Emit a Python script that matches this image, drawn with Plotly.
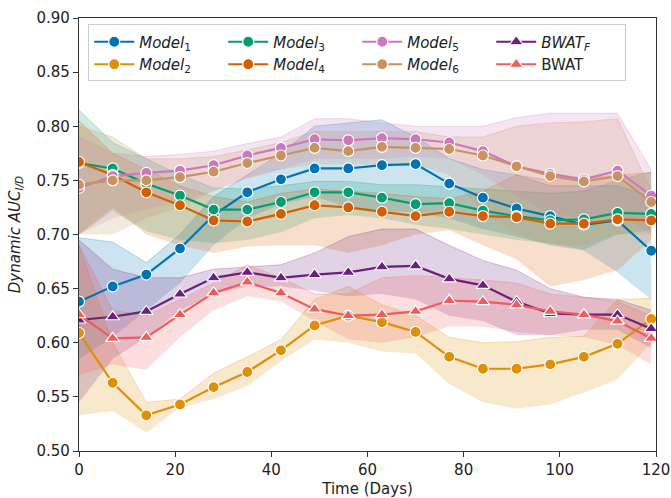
import plotly.graph_objects as go

days = [0, 7, 14, 21, 28, 35, 42, 49, 56, 63, 70, 77, 84, 91, 98, 105, 112, 119]

model1 = [0.638, 0.652, 0.663, 0.687, 0.718, 0.739, 0.751, 0.761, 0.761, 0.764, 0.765, 0.747, 0.734, 0.724, 0.717, 0.709, 0.713, 0.685]
model1_lo = [0.585, 0.605, 0.630, 0.655, 0.690, 0.715, 0.728, 0.735, 0.725, 0.722, 0.720, 0.715, 0.705, 0.698, 0.690, 0.685, 0.665, 0.640]
model1_hi = [0.697, 0.693, 0.674, 0.700, 0.735, 0.755, 0.775, 0.800, 0.803, 0.806, 0.790, 0.770, 0.760, 0.755, 0.745, 0.745, 0.745, 0.735]

model2 = [0.609, 0.563, 0.533, 0.543, 0.559, 0.573, 0.593, 0.616, 0.625, 0.619, 0.610, 0.587, 0.576, 0.576, 0.580, 0.587, 0.599, 0.622]
model2_lo = [0.533, 0.537, 0.517, 0.540, 0.548, 0.560, 0.583, 0.603, 0.600, 0.592, 0.590, 0.562, 0.545, 0.539, 0.543, 0.554, 0.566, 0.600]
model2_hi = [0.690, 0.600, 0.545, 0.548, 0.572, 0.587, 0.603, 0.640, 0.652, 0.635, 0.625, 0.605, 0.600, 0.601, 0.605, 0.606, 0.640, 0.641]

model3 = [0.766, 0.761, 0.747, 0.736, 0.723, 0.723, 0.730, 0.739, 0.739, 0.734, 0.728, 0.729, 0.722, 0.717, 0.713, 0.714, 0.720, 0.719]
model3_lo = [0.700, 0.722, 0.703, 0.695, 0.692, 0.695, 0.702, 0.715, 0.718, 0.715, 0.709, 0.705, 0.700, 0.695, 0.692, 0.686, 0.700, 0.704]
model3_hi = [0.815, 0.785, 0.770, 0.755, 0.743, 0.742, 0.745, 0.749, 0.749, 0.746, 0.746, 0.744, 0.742, 0.740, 0.738, 0.740, 0.750, 0.758]

model4 = [0.767, 0.755, 0.739, 0.727, 0.713, 0.712, 0.719, 0.727, 0.725, 0.721, 0.717, 0.721, 0.717, 0.716, 0.710, 0.710, 0.714, 0.713]
model4_lo = [0.700, 0.725, 0.700, 0.690, 0.683, 0.689, 0.690, 0.690, 0.683, 0.690, 0.700, 0.704, 0.690, 0.677, 0.652, 0.658, 0.667, 0.695]
model4_hi = [0.805, 0.775, 0.760, 0.745, 0.735, 0.730, 0.738, 0.742, 0.740, 0.738, 0.735, 0.733, 0.740, 0.755, 0.750, 0.752, 0.755, 0.757]

model5 = [0.743, 0.754, 0.757, 0.759, 0.764, 0.773, 0.780, 0.788, 0.787, 0.789, 0.788, 0.785, 0.777, 0.763, 0.756, 0.751, 0.759, 0.736]
model5_lo = [0.700, 0.715, 0.723, 0.730, 0.740, 0.752, 0.760, 0.770, 0.770, 0.770, 0.772, 0.770, 0.755, 0.735, 0.720, 0.715, 0.720, 0.700]
model5_hi = [0.790, 0.775, 0.772, 0.774, 0.777, 0.784, 0.790, 0.807, 0.807, 0.803, 0.800, 0.800, 0.800, 0.808, 0.812, 0.812, 0.812, 0.760]

model6 = [0.746, 0.750, 0.750, 0.753, 0.758, 0.766, 0.773, 0.780, 0.777, 0.781, 0.780, 0.779, 0.773, 0.763, 0.754, 0.749, 0.754, 0.730]
model6_lo = [0.700, 0.700, 0.715, 0.725, 0.740, 0.752, 0.760, 0.765, 0.765, 0.765, 0.765, 0.755, 0.720, 0.700, 0.690, 0.690, 0.700, 0.700]
model6_hi = [0.800, 0.790, 0.770, 0.770, 0.772, 0.778, 0.785, 0.795, 0.795, 0.795, 0.795, 0.790, 0.790, 0.800, 0.803, 0.804, 0.807, 0.741]

bwatf = [0.621, 0.624, 0.629, 0.645, 0.660, 0.665, 0.660, 0.663, 0.665, 0.670, 0.671, 0.659, 0.653, 0.638, 0.627, 0.626, 0.626, 0.613]
bwatf_lo = [0.545, 0.585, 0.605, 0.630, 0.645, 0.652, 0.652, 0.648, 0.643, 0.645, 0.640, 0.625, 0.620, 0.607, 0.607, 0.612, 0.612, 0.595]
bwatf_hi = [0.695, 0.668, 0.660, 0.660, 0.668, 0.670, 0.672, 0.683, 0.698, 0.705, 0.705, 0.690, 0.676, 0.667, 0.650, 0.642, 0.640, 0.630]

bwat = [0.626, 0.604, 0.605, 0.626, 0.646, 0.656, 0.646, 0.631, 0.625, 0.626, 0.629, 0.639, 0.638, 0.635, 0.629, 0.626, 0.620, 0.604]
bwat_lo = [0.570, 0.580, 0.575, 0.605, 0.630, 0.643, 0.638, 0.620, 0.603, 0.600, 0.605, 0.615, 0.615, 0.610, 0.607, 0.605, 0.598, 0.580]
bwat_hi = [0.690, 0.630, 0.625, 0.640, 0.655, 0.672, 0.660, 0.645, 0.645, 0.660, 0.662, 0.660, 0.658, 0.655, 0.645, 0.642, 0.638, 0.625]

names = ["<i>Model</i><sub>1</sub>", "<i>Model</i><sub>2</sub>", "<i>Model</i><sub>3</sub>",
         "<i>Model</i><sub>4</sub>", "<i>Model</i><sub>5</sub>", "<i>Model</i><sub>6</sub>",
         "<i>BWAT</i><sub><i>F</i></sub>", "BWAT"]
colors = ["#0173B2", "#DE8F05", "#029E73", "#D55E00", "#CC78BC", "#CA9161", "#6C1F7D", "#EE5C5C"]
symbols = ["circle"] * 6 + ["triangle-up"] * 2
ranks = [1, 5, 2, 6, 3, 7, 4, 8]

series = [(model1, model1_lo, model1_hi), (model2, model2_lo, model2_hi),
          (model3, model3_lo, model3_hi), (model4, model4_lo, model4_hi),
          (model5, model5_lo, model5_hi), (model6, model6_lo, model6_hi),
          (bwatf, bwatf_lo, bwatf_hi), (bwat, bwat_lo, bwat_hi)]


def rgba(h, a):
    h = h.lstrip("#")
    r, g, b = int(h[0:2], 16), int(h[2:4], 16), int(h[4:6], 16)
    return f"rgba({r},{g},{b},{a})"


fig = go.Figure()
for (mean, lo, hi), col in zip(series, colors):
    fig.add_trace(go.Scatter(x=days, y=lo, mode="lines", line=dict(width=0, color=rgba(col, 0.35)),
                             showlegend=False, hoverinfo="skip"))
    fig.add_trace(go.Scatter(x=days, y=hi, mode="lines", line=dict(width=1, color=rgba(col, 0.25)),
                             fill="tonexty", fillcolor=rgba(col, 0.2), showlegend=False, hoverinfo="skip"))

for (mean, lo, hi), col, nm, sym, rk in zip(series, colors, names, symbols, ranks):
    fig.add_trace(go.Scatter(x=days, y=mean, mode="lines+markers", name=nm, legendrank=rk,
                             line=dict(color=col, width=2.2),
                             marker=dict(symbol=sym, size=11 if sym == "circle" else 12, color=col,
                                         line=dict(color="white", width=1.2))))

axis_common = dict(showline=True, linecolor="#333333", linewidth=1.2, mirror=True,
                   ticks="outside", ticklen=5, tickwidth=1.2, tickcolor="#333333",
                   showgrid=False, zeroline=False, automargin=False,
                   tickfont=dict(family="DejaVu Sans", size=15, color="#222222"))

fig.update_xaxes(range=[0, 120], tickvals=[0, 20, 40, 60, 80, 100, 120],
                 title=dict(text="Time (Days)", font=dict(family="DejaVu Sans", size=15, color="#222222"), standoff=8),
                 **axis_common)
fig.update_yaxes(range=[0.5, 0.9], tickvals=[0.5, 0.55, 0.6, 0.65, 0.7, 0.75, 0.8, 0.85, 0.9],
                 tickformat=".2f",
                 title=dict(text="<i>Dynamic AUC</i><sub><i>I/D</i></sub>",
                            font=dict(family="DejaVu Sans", size=15, color="#222222"), standoff=12),
                 **axis_common)

fig.update_layout(
    width=671, height=498,
    margin=dict(l=79, r=15, t=18, b=47),
    plot_bgcolor="white", paper_bgcolor="white",
    legend=dict(orientation="h", x=0.016, y=0.985, xanchor="left", yanchor="top",
                traceorder="normal",
                bgcolor="rgba(255,255,255,0.8)", bordercolor="#cccccc", borderwidth=1,
                font=dict(family="DejaVu Sans", size=15, color="#222222"),
                entrywidth=79, tracegroupgap=0, itemwidth=40),
)

fig.write_html("out.html")
